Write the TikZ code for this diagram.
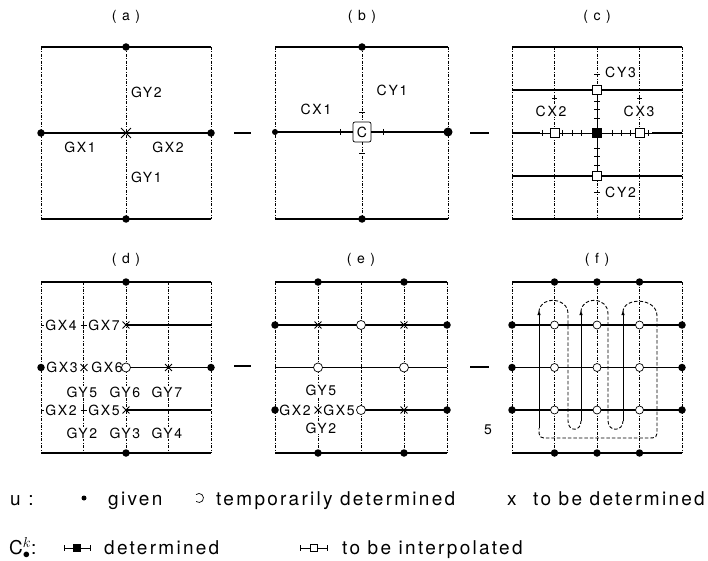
\documentclass[tikz,border=0pt]{standalone}
\usepackage{fontspec}
\setmainfont{TeX Gyre Heros}
\newfontfamily\lab[LetterSpace=12]{TeX Gyre Heros}
\usetikzlibrary{shapes.misc,arrows.meta}
\begin{document}
\begin{tikzpicture}[x=1pt,y=-1pt,
  solidln/.style={line width=1.3pt},
  dotln/.style={line width=0.6pt, dash pattern=on 3pt off 1.5pt on 0.8pt off 1.5pt},
  given/.style={circle,fill=black,inner sep=0pt,minimum size=7.5pt},
  tmp/.style={circle,draw,fill=white,inner sep=0pt,minimum size=9pt,line width=0.7pt},
  tbd/.style={cross out,draw,inner sep=0pt,minimum size=6pt,line width=0.9pt},
  lab/.style={font=\lab\fontsize{14}{16}\selectfont, inner sep=1pt, fill=white},
  leg/.style={font=\lab\fontsize{19}{22}\selectfont, inner sep=0pt, anchor=base west},
  sq/.style={draw,fill=white,inner sep=0pt,minimum size=9pt,line width=0.7pt},
  fsq/.style={draw,fill=black,inner sep=0pt,minimum size=9pt},
  tick/.style={line width=0.7pt},
  flow/.style={line width=0.9pt,dash pattern=on 3.5pt off 2pt},
  stepln/.style={line width=0.9pt,-{Latex[length=5pt,width=3.5pt]}},
  pass/.style={line width=1.3pt}
]
\useasboundingbox (0,0) rectangle (708,561);

% ---------------- (a)
\node[lab] (ta) at (126,17) {( a )};
\coordinate (aTL) at (41,47); \coordinate (aTR) at (211,47);
\coordinate (aBL) at (41,219); \coordinate (aBR) at (211,219);
\coordinate (aT) at (126,47); \coordinate (aB) at (126,219);
\coordinate (aL) at (41,133); \coordinate (aR) at (211,133);
\draw[solidln] (aTL) -- (aTR);
\draw[solidln] (aBL) -- (aBR);
\draw[dotln] (aTL) -- (aBL);
\draw[dotln] (aTR) -- (aBR);
\draw[dotln] (aT) -- (aB);
\draw[solidln] (aL) -- (aR);
\node[given] (aTd) at (aT) {};
\node[given] (aBd) at (aB) {};
\node[given] (aLd) at (aL) {};
\node[given] (aRd) at (aR) {};
\node[tbd,minimum size=9pt] (aC) at (126,133) {};
\node[lab,anchor=west] (aGY2) at (130,92) {GY2};
\node[lab] (aGX1) at (80,147) {GX1};
\node[lab] (aGX2) at (168,147) {GX2};
\node[lab,anchor=west] (aGY1) at (130,177) {GY1};

\coordinate (pab1) at (234,133); \coordinate (pab2) at (251,133);
\draw[pass] (pab1) -- (pab2);

% ---------------- (b)
\node[lab] (tb) at (362,17) {( b )};
\coordinate (bTL) at (275,47); \coordinate (bTR) at (448,47);
\coordinate (bBL) at (275,219); \coordinate (bBR) at (448,219);
\coordinate (bT) at (362,47); \coordinate (bB) at (362,219);
\coordinate (bL) at (275,132); \coordinate (bR) at (448,132);
\draw[solidln] (bTL) -- (bTR);
\draw[solidln] (bBL) -- (bBR);
\draw[dotln] (bTL) -- (bBL);
\draw[dotln] (bTR) -- (bBR);
\draw[dotln] (bT) -- (bB);
\node[draw,rounded corners=2pt,minimum width=18pt,minimum height=20pt,lab,line width=0.7pt] (bC) at (362,132) {C};
\draw[solidln] (bL) -- (bC.west);
\draw[solidln] (bC.east) -- (bR);
\draw[tick] (340,129) -- (340,135);
\draw[tick] (383,129) -- (383,135);
\draw[tick] (359,112) -- (365,112);
\draw[tick] (359,153) -- (365,153);
\node[given] (bTd) at (bT) {};
\node[given] (bBd) at (bB) {};
\node[given,minimum size=6pt] (bLd) at (bL) {};
\node[given,minimum size=9pt] (bRd) at (bR) {};
\node[lab] (bCX1) at (316,109) {CX1};
\node[lab] (bCY1) at (392,90) {CY1};

\coordinate (pbc1) at (470,133); \coordinate (pbc2) at (489,133);
\draw[pass] (pbc1) -- (pbc2);

% ---------------- (c)
\node[lab] (tc) at (597,17) {( c )};
\coordinate (cTL) at (512,47); \coordinate (cTR) at (682,47);
\coordinate (cBL) at (512,219); \coordinate (cBR) at (682,219);
\draw[solidln] (cTL) -- (cTR);
\draw[solidln] (cBL) -- (cBR);
\draw[dotln] (cTL) -- (cBL);
\draw[dotln] (cTR) -- (cBR);
\foreach \x/\n in {554.5/1,597/2,639.5/3}{
  \coordinate (cV\n t) at (\x,47); \coordinate (cV\n b) at (\x,219);
  \draw[dotln] (cV\n t) -- (cV\n b);
}
\coordinate (cH1l) at (512,90); \coordinate (cH1r) at (682,90);
\coordinate (cH3l) at (512,176); \coordinate (cH3r) at (682,176);
\draw[solidln] (cH1l) -- (cH1r);
\draw[solidln] (cH3l) -- (cH3r);
\coordinate (cH2l) at (512,133); \coordinate (cH2r) at (682,133);
\coordinate (cH2a) at (540,133); \coordinate (cH2b) at (652,133);
\draw[solidln] (cH2l) -- (cH2a);
\draw[solidln] (cH2b) -- (cH2r);
\draw[tick] (cH2a) -- (cH2b);
\foreach \x in {542,562,572,581,612,621,630,648}{
  \draw[tick] (\x,130) -- (\x,136);
}
\foreach \y in {74,101,109,118,148,156,165,192}{
  \draw[tick] (594,\y) -- (600,\y);
}
\draw[tick] (597,90) -- (597,176);
\draw[tick] (552,98) -- (557,98);
\draw[tick] (637,98) -- (642,98);
\node[sq] (cS1) at (554.5,133) {};
\node[sq] (cS3) at (639.5,133) {};
\node[sq] (cSt) at (597,90) {};
\node[sq] (cSb) at (597,176) {};
\node[fsq] (cSc) at (597,133) {};
\node[lab,anchor=west] (cCY3) at (604,72) {CY3};
\node[lab] (cCX2) at (551,111) {CX2};
\node[lab] (cCX3) at (639,111) {CX3};
\node[lab,anchor=west] (cCY2) at (604,192) {CY2};

% ---------------- (d)
\node[lab] (td) at (126,260) {( d )};
\coordinate (dTL) at (41,282); \coordinate (dTR) at (211,282);
\coordinate (dBL) at (41,453); \coordinate (dBR) at (211,453);
\draw[solidln] (dTL) -- (dTR);
\draw[solidln] (dBL) -- (dBR);
\draw[dotln] (dTL) -- (dBL);
\draw[dotln] (dTR) -- (dBR);
\foreach \x/\n in {83.5/1,126/2,168.5/3}{
  \coordinate (dV\n t) at (\x,282); \coordinate (dV\n b) at (\x,453);
  \draw[dotln] (dV\n t) -- (dV\n b);
}
\coordinate (dR1) at (211,325); \coordinate (dR2) at (211,367.5); \coordinate (dR3) at (211,410);
\coordinate (dM1) at (126,325); \coordinate (dM2) at (126,367.5); \coordinate (dM3) at (126,410);
\draw[solidln] (dM1) -- (dR1);
\draw[solidln] (dM2) -- (dR2);
\draw[solidln] (dM3) -- (dR3);
\node[lab] (dGX4) at (61,325) {GX4};
\node[lab] (dGX7) at (104,325) {GX7};
\node[lab] (dGX3) at (62,367.5) {GX3};
\node[lab] (dGX6) at (107,367.5) {GX6};
\node[lab] (dGX2) at (61,410) {GX2};
\node[lab] (dGX5) at (104,410) {GX5};
\node[lab] (dGY5) at (82,392) {GY5};
\node[lab] (dGY6) at (125,392) {GY6};
\node[lab] (dGY7) at (167,392) {GY7};
\node[lab] (dGY2) at (82,433) {GY2};
\node[lab] (dGY3) at (125,433) {GY3};
\node[lab] (dGY4) at (167,433) {GY4};
\draw[tick] (41,325) -- (44,325);
\draw[tick] (41,410) -- (44,410);
\draw[tick] (80.5,325) -- (86.5,325);
\draw[tick] (83.5,321) -- (83.5,329);
\draw[tick] (80.5,410) -- (86.5,410);
\draw[tick] (83.5,406) -- (83.5,414);
\node[given] (dTd) at (126,282) {};
\node[given] (dBd) at (126,453) {};
\node[given] (dLd) at (41,367.5) {};
\node[given] (dRd) at (dR2) {};
\node[tbd] (dX1) at (dM1) {};
\node[tbd] (dX3) at (dM3) {};
\node[tbd] (dX2) at (168.5,367.5) {};
\node[tbd] (dX4) at (84,367.5) {};
\node[tmp] (dO) at (dM2) {};

\coordinate (pde1) at (234,366); \coordinate (pde2) at (251,366);
\draw[pass] (pde1) -- (pde2);

% ---------------- (e)
\node[lab] (te) at (361,260) {( e )};
\coordinate (eTL) at (275,282); \coordinate (eTR) at (447,282);
\coordinate (eBL) at (275,453); \coordinate (eBR) at (447,453);
\draw[solidln] (eTL) -- (eTR);
\draw[solidln] (eBL) -- (eBR);
\draw[dotln] (eTL) -- (eBL);
\draw[dotln] (eTR) -- (eBR);
\foreach \x/\n in {318/1,361/2,404/3}{
  \coordinate (eV\n t) at (\x,282); \coordinate (eV\n b) at (\x,453);
  \draw[dotln] (eV\n t) -- (eV\n b);
}
\coordinate (eL1) at (275,325); \coordinate (eR1) at (447,325);
\coordinate (eL2) at (275,367.5); \coordinate (eR2) at (447,367.5);
\coordinate (eL3) at (275,410); \coordinate (eR3) at (447,410);
\coordinate (eM3) at (361,410);
\draw[solidln] (eL1) -- (eR1);
\draw[solidln] (eL2) -- (eR2);
\draw[solidln] (eM3) -- (eR3);
\node[lab] (eGX2) at (295,410) {GX2};
\node[lab] (eGX5) at (339,410) {GX5};
\node[lab] (eGY5) at (321,390) {GY5};
\node[lab] (eGY2) at (321,428) {GY2};
\node[given] at (318,282) {};
\node[given] at (404,282) {};
\node[given] at (318,453) {};
\node[given] at (404,453) {};
\node[given] at (eL1) {};
\node[given] at (eR1) {};
\node[given] at (eL3) {};
\node[given] at (eR3) {};
\node[tbd] at (318,325) {};
\node[tbd] at (404,325) {};
\node[tmp] at (361,325) {};
\node[tmp] at (318,367.5) {};
\node[tmp] at (404,367.5) {};
\node[tbd] at (318,410) {};
\node[tmp] at (eM3) {};
\node[tbd] at (404,410) {};

\coordinate (pef1) at (470,367); \coordinate (pef2) at (489,367);
\draw[pass] (pef1) -- (pef2);

% ---------------- (f)
\node[lab] (tf) at (597,260) {( f )};
\coordinate (fTL) at (512,282); \coordinate (fTR) at (682,282);
\coordinate (fBL) at (512,453); \coordinate (fBR) at (682,453);
\draw[solidln] (fTL) -- (fTR);
\draw[solidln] (fBL) -- (fBR);
\draw[dotln] (fTL) -- (fBL);
\draw[dotln] (fTR) -- (fBR);
\foreach \x/\n in {554.5/1,597/2,639.5/3}{
  \coordinate (fV\n t) at (\x,282); \coordinate (fV\n b) at (\x,453);
  \draw[dotln] (fV\n t) -- (fV\n b);
}
\foreach \y/\n in {325/1,367.5/2,410/3}{
  \coordinate (fL\n) at (512,\y); \coordinate (fR\n) at (682,\y);
  \draw[solidln] (fL\n) -- (fR\n);
}
\draw[flow] (539,312) .. controls (539,296) and (568,296) .. (568,314) -- (568,421)
   .. controls (568,432) and (581,432) .. (581,421);
\draw[stepln] (581,421) -- (581,310);
\draw[flow] (581,312) .. controls (581,296) and (608,296) .. (608,314) -- (608,421)
   .. controls (608,432) and (623,432) .. (623,421);
\draw[stepln] (623,421) -- (623,310);
\draw[flow] (623,312) .. controls (623,297) and (657,297) .. (657,316) -- (657,428)
   .. controls (657,438) and (657,438) .. (647,438) -- (549,438)
   .. controls (539,438) and (539,438) .. (539,428);
\draw[stepln] (539,428) -- (539,310);
\foreach \n in {1,2,3}{
  \node[given] at (fL\n) {};
  \node[given] at (fR\n) {};
}
\foreach \x in {554.5,597,639.5}{
  \node[given] at (\x,282) {};
  \node[given] at (\x,453) {};
  \foreach \y in {325,367.5,410}{
    \node[tmp,minimum size=8pt] at (\x,\y) {};
  }
}
\node[lab] (f5) at (488,430) {5};

% ---------------- legend
\node[leg] (lu) at (10,505) {u :};
\node[given,minimum size=5pt] (lg) at (84,498) {};
\node[leg] (lgt) at (108,505) {given};
\coordinate (ltc) at (199,498);
\draw[tick] (ltc) ++(130:4.5) arc[start angle=130,end angle=-130,radius=4.5];
\node[leg] (ltt) at (216,505) {temporarily determined};
\node[leg] (lx) at (507,505) {x};
\node[leg] (lxt) at (533,505) {to be determined};

\node[leg] (lc) at (9,554) {C$^{k}_{\bullet}$:};
\coordinate (ld1) at (64,548); \coordinate (ld2) at (90,548);
\draw[tick] (ld1) -- (ld2);
\draw[tick] (64,545) -- (64,551);
\draw[tick] (90,545) -- (90,551);
\node[fsq,minimum size=7pt] (ldq) at (77,548) {};
\node[leg] (ldt) at (104,554) {determined};
\coordinate (li1) at (300,548); \coordinate (li2) at (327,548);
\draw[tick] (li1) -- (li2);
\draw[tick] (300,545) -- (300,551);
\draw[tick] (327,545) -- (327,551);
\node[sq,minimum size=7pt] (liq) at (313.5,548) {};
\node[leg] (lit) at (342,554) {to be interpolated};
\end{tikzpicture}
\end{document}
